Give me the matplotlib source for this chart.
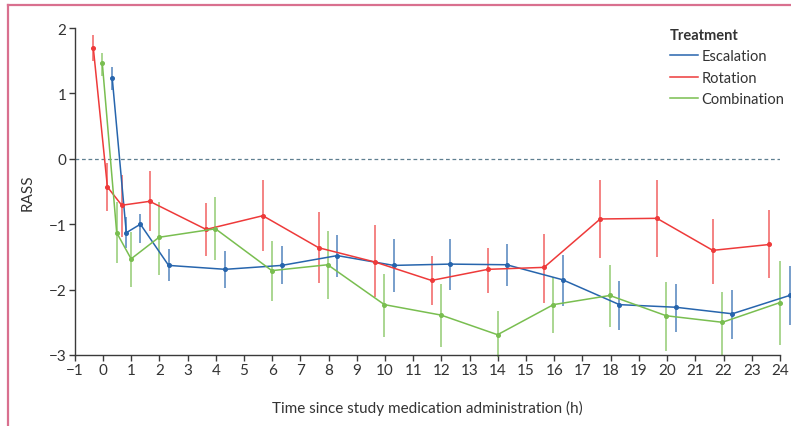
import matplotlib

matplotlib.use("Agg")
import matplotlib.pyplot as plt
from matplotlib.lines import Line2D

# Mean RASS with 95% CI by treatment arm
esc_hours = [0.33, 0.83, 1.33, 2.33, 4.34, 6.34, 8.31, 10.31, 12.31, 14.31, 16.30, 18.31, 20.31, 22.31, 24.34]
esc_mean = [1.24, -1.13, -1.00, -1.63, -1.69, -1.63, -1.48, -1.63, -1.61, -1.62, -1.85, -2.23, -2.27, -2.37, -2.09]
esc_low = [1.05, -1.37, -1.29, -1.87, -1.97, -1.92, -1.81, -2.04, -2.00, -1.94, -2.25, -2.62, -2.65, -2.75, -2.54]
esc_high = [1.40, -0.89, -0.84, -1.38, -1.41, -1.33, -1.16, -1.22, -1.23, -1.30, -1.47, -1.87, -1.91, -2.00, -1.64]

rot_hours = [-0.34, 0.16, 0.67, 1.66, 3.66, 5.67, 7.65, 9.66, 11.65, 13.65, 15.64, 17.63, 19.64, 21.62, 23.63]
rot_mean = [1.70, -0.43, -0.71, -0.65, -1.08, -0.87, -1.36, -1.58, -1.86, -1.69, -1.66, -0.92, -0.91, -1.40, -1.31]
rot_low = [1.50, -0.80, -1.20, -1.11, -1.49, -1.41, -1.90, -2.11, -2.24, -2.05, -2.20, -1.51, -1.50, -1.91, -1.82]
rot_high = [1.90, -0.06, -0.24, -0.19, -0.67, -0.32, -0.82, -1.01, -1.49, -1.36, -1.15, -0.33, -0.32, -0.92, -0.79]

comb_hours = [-0.02, 0.49, 1.00, 1.99, 3.99, 5.99, 7.97, 9.98, 11.99, 13.99, 15.97, 17.97, 19.97, 21.96, 23.99]
comb_mean = [1.46, -1.13, -1.53, -1.20, -1.07, -1.71, -1.62, -2.23, -2.39, -2.69, -2.23, -2.09, -2.40, -2.50, -2.20]
comb_low = [1.27, -1.60, -1.96, -1.77, -1.55, -2.17, -2.14, -2.73, -2.88, -3.03, -2.67, -2.57, -2.94, -3.00, -2.85]
comb_high = [1.62, -0.66, -1.12, -0.66, -0.58, -1.26, -1.10, -1.76, -1.91, -2.33, -1.81, -1.62, -1.88, -2.03, -1.57]

x_ticks = list(range(-1, 25))
y_ticks = [-3, -2, -1, 0, 1, 2]

BLUE = "#2765ad"
RED = "#ee3a3a"
GREEN = "#79be50"
AXIS = "#3a3a3a"
TEXT = "#333333"

plt.rcParams["font.family"] = ["Lato", "DejaVu Sans"]

fig = plt.figure(figsize=(7.91, 4.27), dpi=100)
ax = fig.add_axes([0.0944, 0.1663, 0.8916, 0.7657])

series = [
    ("Escalation", esc_hours, esc_mean, esc_low, esc_high, BLUE),
    ("Rotation", rot_hours, rot_mean, rot_low, rot_high, RED),
    ("Combination", comb_hours, comb_mean, comb_low, comb_high, GREEN),
]

for name, hours, mean, low, high, color in series:
    yerr = [[m - lo for m, lo in zip(mean, low)], [hi - m for m, hi in zip(mean, high)]]
    ax.errorbar(hours, mean, yerr=yerr, fmt="none", ecolor=color, elinewidth=1.1,
                alpha=0.8, capsize=0, clip_on=False, zorder=2)
    ax.plot(hours, mean, color=color, linewidth=1.1, marker="o", markersize=2.6,
            clip_on=False, zorder=3)

ax.axhline(0, color="#5f7f90", linewidth=0.9, linestyle=(0, (3, 2.2)), zorder=1)

ax.set_xlim(-1, 24)
ax.set_ylim(-3, 2)
ax.set_xticks(x_ticks)
ax.set_yticks(y_ticks)
ax.spines["top"].set_visible(False)
ax.spines["right"].set_visible(False)
for side in ("left", "bottom"):
    ax.spines[side].set_color(AXIS)
    ax.spines[side].set_linewidth(1.0)
ax.tick_params(direction="out", length=4, width=1.0, color=AXIS, labelcolor=TEXT,
               labelsize=11, pad=2)

ax.set_xlabel("Time since study medication administration (h)", fontsize=11, color=TEXT, labelpad=16)
ax.set_ylabel("RASS", fontsize=11, color=TEXT, labelpad=10)

handles = [Line2D([], [], color=c, linewidth=1.1) for *_, c in series]
leg = ax.legend(handles, [s[0] for s in series], title="Treatment", loc="upper left",
                bbox_to_anchor=(0.844, 1.0), frameon=False, fontsize=10.5,
                borderpad=0, borderaxespad=0, handlelength=1.95, handletextpad=0.2,
                labelspacing=0.5, alignment="left", labelcolor=TEXT)
leg.get_title().set_fontweight("bold")
leg.get_title().set_fontsize(10.5)
leg.get_title().set_color(TEXT)

# Page frame lines on the left and top
frame = "#d9708f"
fig.add_artist(Line2D([8.3 / 791, 8.3 / 791], [0, 1 - 6 / 427], transform=fig.transFigure,
                      color=frame, linewidth=1.6))
fig.add_artist(Line2D([8.3 / 791, 1], [1 - 6 / 427, 1 - 6 / 427], transform=fig.transFigure,
                      color=frame, linewidth=1.6))

fig.savefig("out.png", dpi=100)
